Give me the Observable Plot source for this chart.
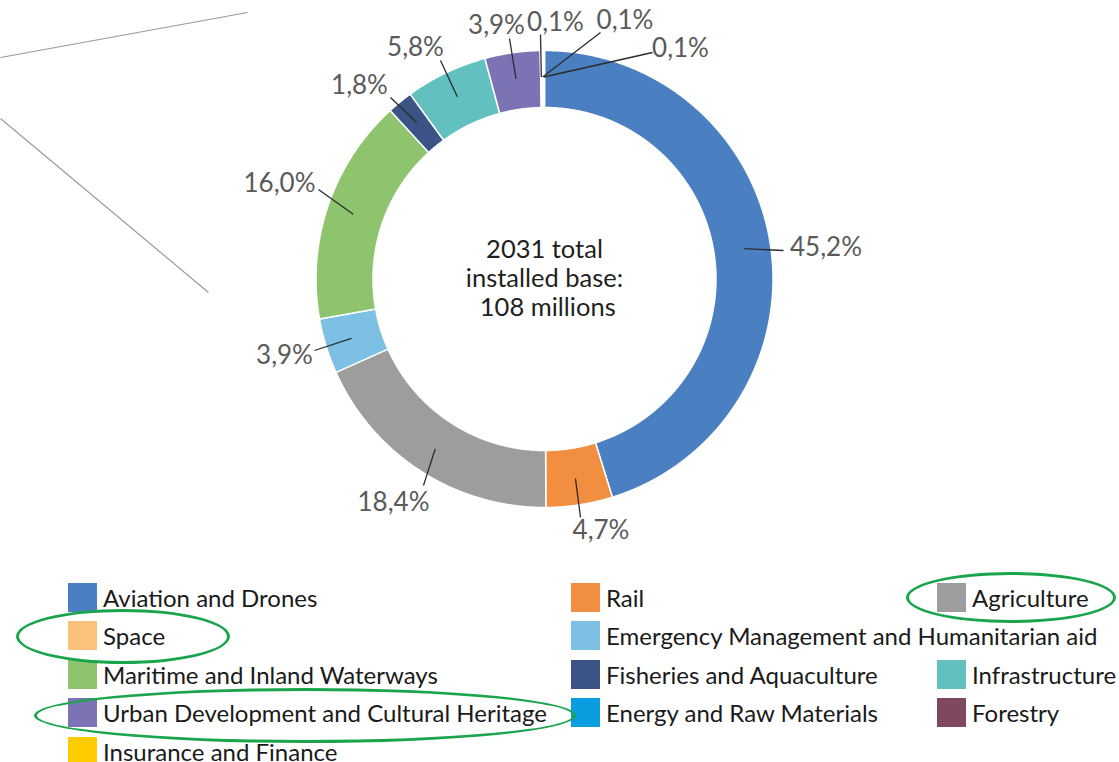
<!DOCTYPE html>
<html><head><meta charset="utf-8">
<script src="https://cdn.jsdelivr.net/npm/d3@7"></script>
<script src="https://cdn.jsdelivr.net/npm/@observablehq/plot@0.6"></script>
<style>
body{margin:0;background:#fff;font-family:Lato,"Open Sans",sans-serif;}
#wrap{position:relative;width:1119px;height:762px;overflow:hidden;background:#fff;}
#chart{position:absolute;left:0;top:0;}
#legend{position:absolute;left:68px;top:578px;display:grid;grid-template-columns:503px 366px 182px;grid-auto-rows:38.5px;}
.item{display:flex;align-items:center;font-size:24px;color:#1a1a1a;white-space:nowrap;}
.item.wide{grid-column:span 2;}
.sw{width:29px;height:29px;margin-right:6px;flex:none;}
.ell{position:absolute;border:3.5px solid #1aa44c;border-radius:50%;box-sizing:border-box;}
</style></head><body>
<div id="wrap"><div id="chart"></div><div id="legend"></div></div>
<script>
// ---- data ----
const sectors = ["Aviation and Drones","Rail","Agriculture","Space","Emergency Management and Humanitarian aid","Maritime and Inland Waterways","Fisheries and Aquaculture","Infrastructure","Urban Development and Cultural Heritage","Energy and Raw Materials","Forestry","Insurance and Finance"];
const shares = [45.2, 4.7, 18.4, 0, 3.9, 16.0, 1.8, 5.8, 3.9, 0.1, 0.1, 0.1];
const colors = ["#4a7fc1","#f28e3f","#9d9d9d","#fac27c","#7cc0e3","#8ec46e","#3c5485","#62c0bf","#7b73b3","#0a9de0","#7f485f","#ffcc00"];
const centerLines = ["2031 total", "installed base:", " 108 millions"];
const calloutLines = [[[-544, 221.5], [-297, 266.5]], [[-544, 160.5], [-336, -13.5]]];
// label layout (chart units, relative to the donut centre)
const labelAt = [[281.5,31.5],[56.5,-251.5],[-151,-223.5],null,[-260,-76.5],[-265,95.5],[-185,193.5],[-129,231.5],[-48,253.5],[11,256.5],[80.5,258.5],[136,230.5]];
const leaderEnd = [[239,28.5],[36,-238.5],[-121,-206.5],null,[-230,-71.5],[-226,89.5],[-154,181.5],[-104,218.5],[-35,240.5],[-4,244.5],[56,246.5],[108,226.5]];

// ---- geometry ----
const W = 1119, H = 575, cx = 544, cy = 278.5;
const R0 = 171.5, R1 = 228.5, RL = 202;
const pt = (r, a) => [r * Math.sin(a), r * Math.cos(a)];
let acc = 0;
const slices = [];
shares.forEach((v, i) => {
  const a0 = acc / 100 * 2 * Math.PI; acc += v;
  const a1 = acc / 100 * 2 * Math.PI;
  if (v > 0) slices.push({i, name: sectors[i], v, a0, a1, mid: (a0 + a1) / 2});
});
const poly = [];
for (const s of slices) {
  const n = Math.max(2, Math.ceil((s.a1 - s.a0) / 0.004));
  for (let k = 0; k <= n; k++) { const [x, y] = pt(R1, s.a0 + (s.a1 - s.a0) * k / n); poly.push({name: s.name, x, y}); }
  for (let k = n; k >= 0; k--) { const [x, y] = pt(R0, s.a0 + (s.a1 - s.a0) * k / n); poly.push({name: s.name, x, y}); }
}
const fmt = v => v.toFixed(1).replace(".", ",") + "%";
const labels = slices.map(s => {
  const [x1, y1] = pt(RL, s.mid);
  return {x1, y1, x2: leaderEnd[s.i][0], y2: leaderEnd[s.i][1], tx: labelAt[s.i][0], ty: labelAt[s.i][1], text: fmt(s.v)};
});
const links = calloutLines.map(([a, b]) => ({x1: a[0], y1: a[1], x2: b[0], y2: b[1]}));

const chart = Plot.plot({
  width: W, height: H, margin: 0,
  style: {fontFamily: "Lato, 'Open Sans', sans-serif", background: "#fff"},
  x: {domain: [-cx, W - cx], axis: null},
  y: {domain: [-(H - cy), cy], axis: null},
  color: {domain: sectors, range: colors},
  marks: [
    Plot.link(links, {x1: "x1", y1: "y1", x2: "x2", y2: "y2", stroke: "#9a9a9a", strokeWidth: 1.2}),
    Plot.line(poly, {x: "x", y: "y", z: "name", fill: "name", stroke: "white", strokeWidth: 1.5, curve: "linear-closed"}),
    Plot.link(labels, {x1: "x1", y1: "y1", x2: "x2", y2: "y2", stroke: "#2b2b2b", strokeWidth: 1.3}),
    Plot.text(labels, {x: "tx", y: "ty", text: "text", fill: "#5a5a5a", fontSize: 26, textAnchor: "middle"}),
    Plot.text([centerLines.join("\n")], {x: 0, y: 1.5, text: d => d, fill: "#1f1f1f", fontSize: 25.5, lineHeight: 1.14, textAnchor: "middle"})
  ]
});
document.getElementById("chart").appendChild(chart);

// ---- legend ----
const leg = document.getElementById("legend");
sectors.forEach((s, i) => {
  const it = document.createElement("div");
  it.className = "item" + (s.startsWith("Emergency") ? " wide" : "");
  const sw = document.createElement("span"); sw.className = "sw"; sw.style.background = colors[i];
  it.appendChild(sw); it.appendChild(document.createTextNode(s));
  leg.appendChild(it);
});
// ---- highlight ellipses (annotations) ----
const ellipses = [[906,572,210,51],[16,609,214,55],[34,688,542,55]];
for (const [l, t, w, h] of ellipses) {
  const e = document.createElement("div"); e.className = "ell";
  Object.assign(e.style, {left: l + "px", top: t + "px", width: w + "px", height: h + "px"});
  document.getElementById("wrap").appendChild(e);
}
</script></body></html>
